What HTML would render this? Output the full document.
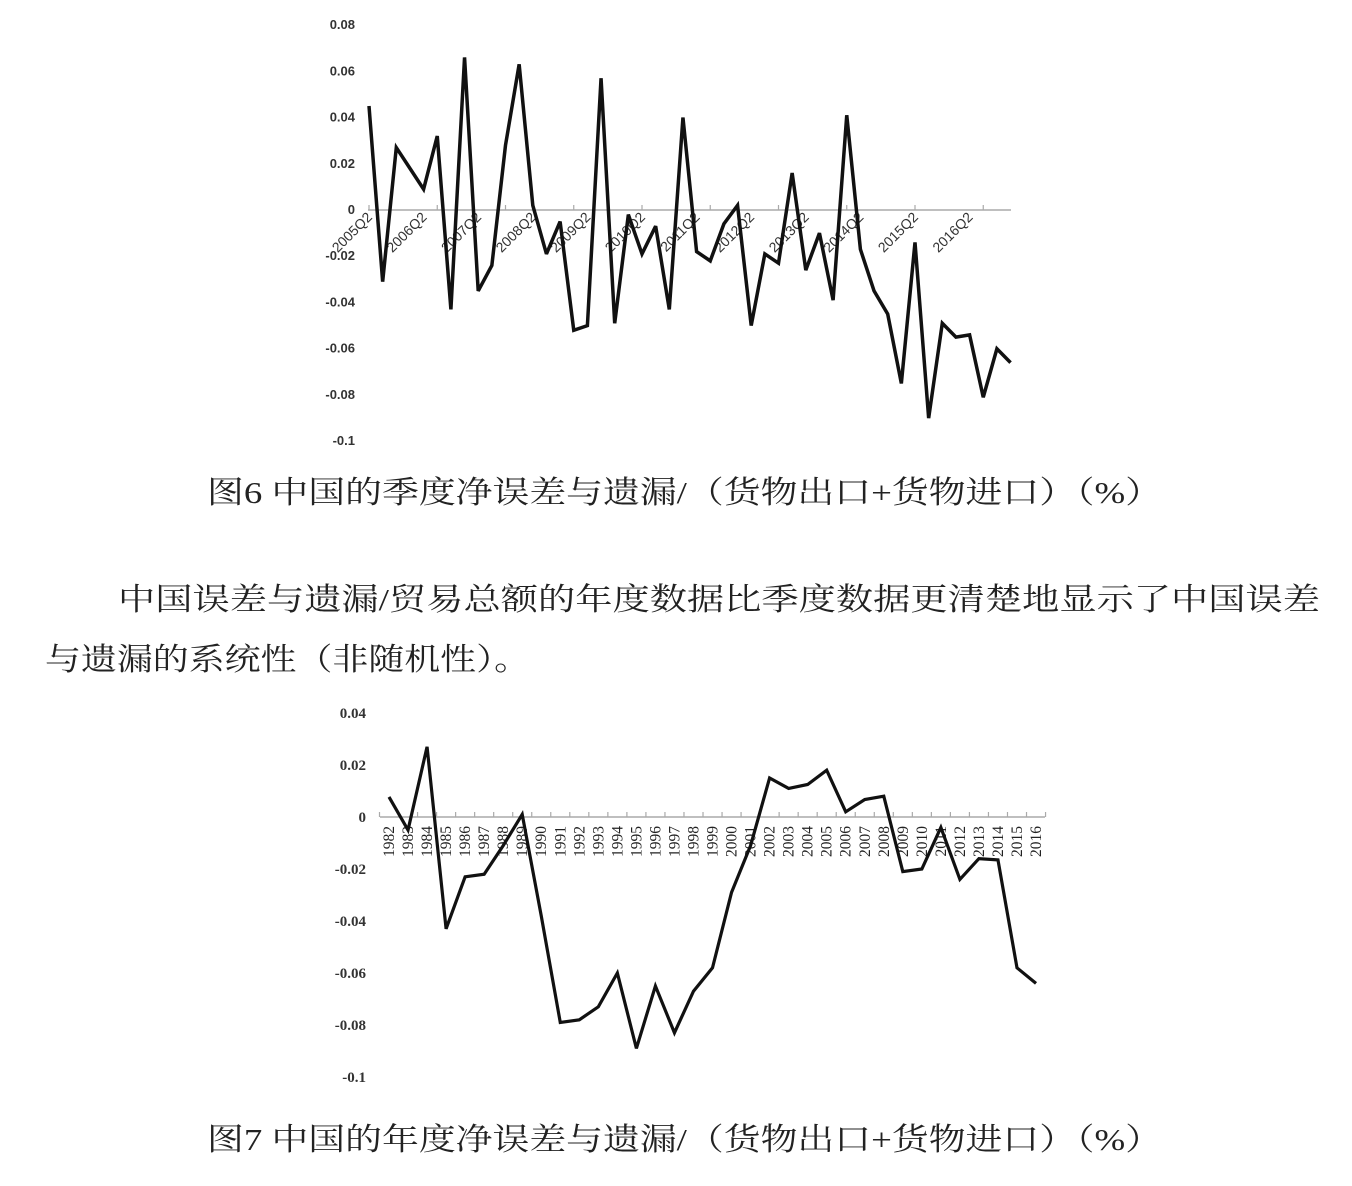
<!DOCTYPE html>
<html><head><meta charset="utf-8"><style>
html,body{margin:0;padding:0;background:#fff;}
svg{display:block}
.cap{font-family:"Liberation Serif","Noto Serif CJK SC","Noto Sans CJK SC",serif;font-size:31px;fill:#222;}
.yl1{font-family:"Liberation Sans",sans-serif;font-size:13px;font-weight:bold;fill:#333;}
.xl1{font-family:"Liberation Sans",sans-serif;font-size:14px;fill:#333;}
.yl2{font-family:"Liberation Serif",serif;font-size:15px;font-weight:bold;fill:#333;}
.xl2{font-family:"Liberation Serif",serif;font-size:15.5px;fill:#222;}
</style></head><body>
<svg id="page" width="1352" height="1186" viewBox="0 0 1352 1186" xmlns="http://www.w3.org/2000/svg">
<g id="chart1"></g>
<text class="cap" x="207" y="503" textLength="955" lengthAdjust="spacingAndGlyphs">图6 中国的季度净误差与遗漏/（货物出口+货物进口）（%）</text>
<text class="cap" x="118" y="610" textLength="1202" lengthAdjust="spacingAndGlyphs">中国误差与遗漏/贸易总额的年度数据比季度数据更清楚地显示了中国误差</text>
<text class="cap" x="45" y="670" textLength="485" lengthAdjust="spacingAndGlyphs">与遗漏的系统性（非随机性）。</text>
<g id="chart2"></g>
<text class="cap" x="207" y="1150" textLength="955" lengthAdjust="spacingAndGlyphs">图7 中国的年度净误差与遗漏/（货物出口+货物进口）（%）</text>
</svg>
<script>
const NS="http://www.w3.org/2000/svg";
const q1Values=[0.045,-0.031,0.027,0.018,0.009,0.032,-0.043,0.066,-0.035,-0.024,0.028,0.063,0.002,-0.019,-0.005,-0.052,-0.050,0.057,-0.049,-0.002,-0.019,-0.007,-0.043,0.040,-0.018,-0.022,-0.006,0.002,-0.050,-0.019,-0.023,0.016,-0.026,-0.010,-0.039,0.041,-0.017,-0.035,-0.045,-0.075,-0.014,-0.090,-0.049,-0.055,-0.054,-0.081,-0.060,-0.066];
const q1Labels=["2005Q2","2006Q2","2007Q2","2008Q2","2009Q2","2010Q2","2011Q2","2012Q2","2013Q2","2014Q2","2015Q2","2016Q2"];
const q1Ticks=["0.08","0.06","0.04","0.02","0","-0.02","-0.04","-0.06","-0.08","-0.1"];
const years=["1982","1983","1984","1985","1986","1987","1988","1989","1990","1991","1992","1993","1994","1995","1996","1997","1998","1999","2000","2001","2002","2003","2004","2005","2006","2007","2008","2009","2010","2011","2012","2013","2014","2015","2016"];
const yValues=[0.0077,-0.005,0.027,-0.043,-0.023,-0.022,-0.011,0.001,-0.038,-0.079,-0.078,-0.073,-0.060,-0.089,-0.065,-0.083,-0.067,-0.058,-0.029,-0.011,0.015,0.011,0.0125,0.018,0.002,0.0067,0.008,-0.021,-0.020,-0.004,-0.024,-0.016,-0.0165,-0.058,-0.064];
const y2Ticks=["0.04","0.02","0","-0.02","-0.04","-0.06","-0.08","-0.1"];

function mk(tag,attrs,parent,txt){const e=document.createElementNS(NS,tag);for(const k in attrs)e.setAttribute(k,attrs[k]);if(txt!==undefined)e.textContent=txt;parent.appendChild(e);return e;}

// Chart 1
const c1=document.getElementById('chart1');
const x1=i=>369+i*13.65;
const y1=v=>210-v*2312;
for(const t of q1Ticks){const e=mk('text',{class:'yl1',x:355,y:y1(parseFloat(t))+4,'text-anchor':'end'},c1,t);

}
let ax=mk('line',{x1:368,y1:210,x2:1011,y2:210,stroke:'#aaa','stroke-width':1.5},c1);


for(let i=0;i<q1Values.length;i+=5){const t=mk('line',{x1:x1(i),y1:205,x2:x1(i),y2:210,stroke:'#aaa','stroke-width':1.2},c1);

}
q1Labels.forEach((l,k)=>{const x=x1(k*4)+4,y=218;const e=mk('text',{class:'xl1',x:x,y:y,'text-anchor':'end',transform:`rotate(-45 ${x} ${y})`},c1,l);

});
let p1=mk('polyline',{points:q1Values.map((v,i)=>x1(i)+','+y1(v)).join(' '),fill:'none',stroke:'#111','stroke-width':3.5,'stroke-linejoin':'miter','stroke-miterlimit':3},c1);



// Chart 2
const c2=document.getElementById('chart2');
const x2=i=>389+i*19.03;
const y2=v=>817-v*2600;
for(const t of y2Ticks){const e=mk('text',{class:'yl2',x:366,y:y2(parseFloat(t))+5,'text-anchor':'end'},c2,t);

}
let ax2=mk('line',{x1:380,y1:817,x2:1045,y2:817,stroke:'#aaa','stroke-width':1.5},c2);


for(let i=0;i<=years.length;i++){const xx=x2(i)-9.5;const t=mk('line',{x1:xx,y1:812,x2:xx,y2:817,stroke:'#aaa','stroke-width':1.2},c2);

}
years.forEach((l,i)=>{const x=x2(i)+5,y=826;const e=mk('text',{class:'xl2',x:x,y:y,'text-anchor':'end',transform:`rotate(-90 ${x} ${y})`},c2,l);

});
let p2=mk('polyline',{points:yValues.map((v,i)=>x2(i)+','+y2(v)).join(' '),fill:'none',stroke:'#111','stroke-width':3.2,'stroke-linejoin':'miter','stroke-miterlimit':3},c2);


</script>
</body></html>
